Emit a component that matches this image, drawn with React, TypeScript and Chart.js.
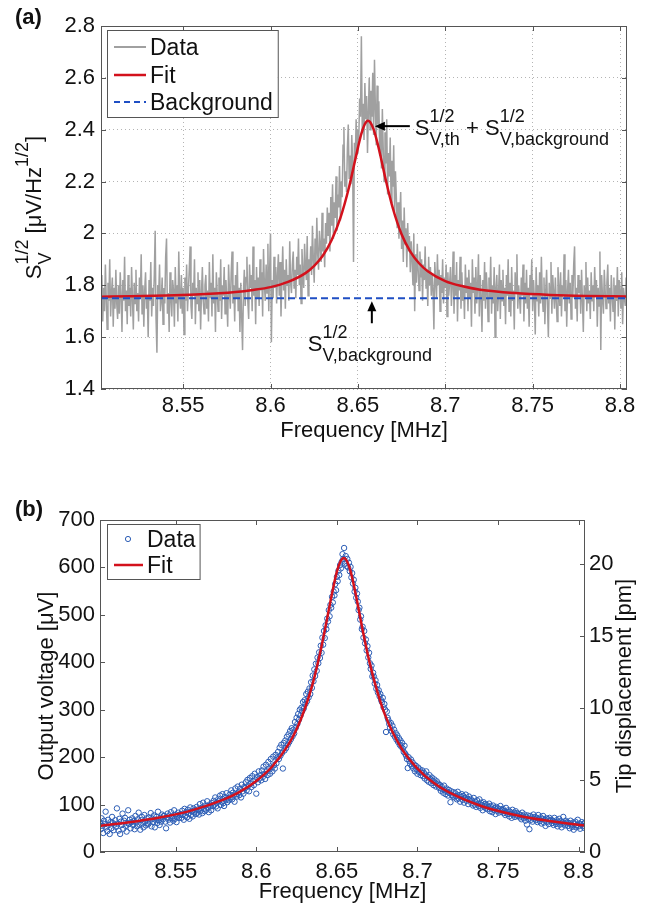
import React, { useEffect, useRef } from 'react';
import { Chart, registerables } from 'chart.js';

Chart.register(...registerables);

const FONT = '"Liberation Sans", Arial, Helvetica, sans-serif';

// ---------- shared frequency axis (MHz) ----------
const FREQ_MIN = 8.503;
const FREQ_MAX = 8.804;
const SAMPLE_START = 8.503; // sweep start of the measured spectra
const SAMPLE_STEP = 0.0005; // sweep resolution of the measured spectra
const X_TICKS = [8.55, 8.6, 8.65, 8.7, 8.75, 8.8];
const X_TICK_LABELS = ['8.55', '8.6', '8.65', '8.7', '8.75', '8.8'];

// ---------- panel (a) ----------
const A_Y_MIN = 1.4;
const A_Y_MAX = 2.8;
const A_Y_TICKS = [1.4, 1.6, 1.8, 2, 2.2, 2.4, 2.6, 2.8];
const A_Y_TICK_LABELS = ['1.4', '1.6', '1.8', '2', '2.2', '2.4', '2.6', '2.8'];
const A_BACKGROUND = 1.75;

const A_SPECTRUM = [
  1.72,1.84,1.66,1.79,1.70,1.88,1.75,1.63,1.81,1.74,1.90,1.68,1.77,1.83,1.64,1.79,1.71,1.86,1.73,1.67,
  1.80,1.69,1.85,1.76,1.62,1.82,1.74,1.91,1.70,1.78,1.65,1.84,1.72,1.79,1.68,1.87,1.75,1.63,1.81,1.73,
  1.86,1.70,1.77,1.66,1.83,1.75,1.92,1.69,1.80,1.64,1.78,1.85,1.71,1.76,1.60,1.82,1.74,1.89,1.68,1.79,
  1.72,1.84,2.01,1.67,1.54,1.80,1.76,1.88,1.70,1.74,1.83,1.65,1.79,1.73,1.91,1.98,1.69,1.77,1.62,1.85,
  1.75,1.68,1.82,1.78,1.64,1.87,1.73,1.80,1.66,1.93,1.76,1.71,1.84,1.69,1.79,1.61,1.83,1.74,1.88,1.70,
  1.78,1.86,1.95,1.72,1.67,1.81,1.76,1.90,1.65,1.79,1.73,1.85,1.70,1.82,1.63,1.77,1.87,1.74,1.69,1.80,
  1.84,1.71,1.78,1.66,1.89,1.75,1.81,1.68,1.92,1.73,1.79,1.62,1.85,1.77,1.70,1.83,1.74,1.90,1.67,1.80,
  1.76,1.87,1.69,1.82,1.74,1.64,1.88,1.78,1.71,1.85,1.93,1.73,1.80,1.66,1.84,1.75,1.89,1.70,1.79,1.62,
  1.81,1.68,1.55,1.77,1.86,1.72,1.83,1.91,1.74,1.67,1.88,1.79,1.84,1.70,1.95,1.76,1.82,1.65,1.87,1.75,
  1.83,1.72,1.90,1.78,1.85,1.68,1.94,1.80,1.74,1.88,1.77,1.96,1.70,1.86,2.00,1.58,1.82,1.75,1.91,1.79,
  1.87,1.73,1.84,1.92,1.76,1.89,1.68,1.82,1.95,1.78,1.86,1.71,1.90,1.80,1.84,1.74,1.97,1.81,1.77,1.88,
  1.93,1.79,1.86,1.75,1.91,1.84,1.98,1.80,1.88,1.73,1.94,1.85,1.79,1.96,1.87,1.82,1.99,1.76,1.90,1.86,
  1.95,1.84,2.03,1.90,1.81,1.98,1.88,2.06,1.92,1.86,2.01,1.95,1.89,2.08,1.93,1.98,1.87,2.04,1.96,2.10,
  1.99,2.08,1.93,2.14,2.03,2.19,1.98,2.12,2.06,2.22,2.01,2.15,2.10,2.26,2.05,2.20,2.14,2.34,2.41,2.18,
  2.24,2.16,2.33,2.42,2.21,2.30,2.19,2.38,2.27,1.89,2.35,2.28,2.44,2.31,2.40,2.36,2.52,2.45,2.76,2.39,
  2.50,2.36,2.58,2.44,2.53,2.31,2.47,2.60,2.40,2.55,2.45,2.62,2.38,2.67,2.49,2.34,2.57,2.42,2.51,2.30,
  2.41,2.25,2.48,2.33,2.20,2.39,2.27,2.44,2.15,2.31,2.22,2.37,2.12,2.28,2.18,2.34,2.08,2.24,2.14,2.02,
  2.12,1.98,2.07,2.16,1.94,2.05,1.89,2.10,1.96,2.02,1.87,2.04,1.93,1.99,1.85,1.97,1.90,1.80,2.00,1.70,
  1.92,1.81,1.96,1.86,1.78,1.93,1.83,1.90,1.74,1.88,1.82,1.95,1.79,1.86,1.72,1.91,1.80,1.87,1.76,1.84,
  1.78,1.63,1.89,1.82,1.75,1.92,1.80,1.86,1.70,1.84,1.77,1.90,1.73,1.83,1.79,1.88,1.68,1.85,1.76,1.81,
  1.87,1.72,1.80,1.93,1.69,1.84,1.76,1.89,1.66,1.82,1.78,1.91,1.71,1.85,1.74,1.80,1.67,1.88,1.77,1.83,
  1.70,1.86,1.75,1.81,1.64,1.90,1.77,1.83,1.69,1.87,1.73,1.79,1.92,1.68,1.84,1.76,1.62,1.82,1.74,1.89,
  1.71,1.85,1.78,1.66,1.83,1.75,1.91,1.69,1.80,1.73,1.87,1.60,1.79,1.84,1.70,1.77,1.88,1.67,1.82,1.74,
  1.86,1.72,1.79,1.65,1.84,1.76,1.90,1.70,1.81,1.68,1.87,1.74,1.78,1.63,1.85,1.77,1.92,1.71,1.80,1.75,
  1.69,1.83,1.76,1.88,1.66,1.81,1.73,1.86,1.71,1.79,1.64,1.84,1.77,1.90,1.70,1.82,1.75,1.61,1.87,1.74,
  1.80,1.68,1.85,1.73,1.91,1.76,1.70,1.83,1.65,1.78,1.86,1.72,1.60,1.81,1.75,1.89,1.69,1.84,1.77,1.71,
  1.83,1.74,1.66,1.87,1.79,1.72,1.85,1.68,1.80,1.76,1.92,1.70,1.82,1.64,1.78,1.86,1.73,1.81,1.67,1.84,
  1.75,1.88,1.95,1.71,1.79,1.66,1.84,1.77,1.82,1.69,1.86,1.74,1.62,1.80,1.76,1.89,1.70,1.83,1.73,1.78,
  1.67,1.85,1.74,1.80,1.70,1.87,1.76,1.82,1.64,1.79,1.72,1.93,1.55,1.84,1.75,1.69,1.86,1.78,1.71,1.81,
  1.88,1.73,1.79,1.66,1.84,1.76,1.70,1.83,1.63,1.80,1.74,1.87,1.68,1.82,1.77,1.71,1.85,1.65,1.79,1.75,
  1.72,1.83,1.69,
];

const A_FIT_F = [
  8.503, 8.52, 8.54, 8.56, 8.58, 8.59, 8.6, 8.61, 8.62, 8.625, 8.63, 8.635, 8.64, 8.645, 8.648,
  8.65, 8.652, 8.654, 8.6557, 8.657, 8.659, 8.661, 8.663, 8.666, 8.67, 8.675, 8.68, 8.685, 8.69,
  8.7, 8.71, 8.72, 8.74, 8.76, 8.78, 8.804,
];
const A_FIT_V = [
  1.756, 1.758, 1.761, 1.765, 1.774, 1.782, 1.793, 1.813, 1.847, 1.875, 1.915, 1.975, 2.06, 2.18, 2.27,
  2.33, 2.385, 2.422, 2.435, 2.43, 2.401, 2.354, 2.297, 2.205, 2.097, 1.997, 1.93, 1.885, 1.854,
  1.816, 1.796, 1.783, 1.77, 1.763, 1.759, 1.757,
];

// ---------- panel (b) ----------
const B_Y_MIN = 0;
const B_Y_MAX = 700;
const B_Y_TICKS = [0, 100, 200, 300, 400, 500, 600, 700];
const B_Y_TICK_LABELS = ['0', '100', '200', '300', '400', '500', '600', '700'];
const B_Y2_TICKS = [0, 5, 10, 15, 20];
const B_Y2_TICK_LABELS = ['0', '5', '10', '15', '20'];
const UV_PER_PM = 30.4; // output voltage per tip displacement

const B_AMPLITUDE = [
  62,48,71,55,40,66,59,85,52,44,68,57,38,63,50,74,61,46,58,67,
  53,92,60,45,70,38,64,57,81,49,66,72,55,43,61,88,59,68,50,63,
  71,57,65,48,76,62,54,69,83,58,47,67,74,60,52,78,64,56,71,61,
  59,73,66,82,54,70,63,77,52,68,74,61,85,67,57,72,64,79,69,76,
  76,64,50,73,81,68,77,62,84,71,75,66,88,70,79,63,74,83,72,78,
  80,72,87,79,68,91,76,84,73,89,81,70,94,78,86,75,92,83,88,80,
  95,83,90,79,101,87,93,82,104,91,86,98,89,107,93,84,100,96,88,103,
  97,108,100,115,96,104,92,112,107,119,99,106,122,103,97,116,110,124,105,113,
  109,121,115,130,111,125,119,106,134,122,117,138,126,120,133,115,142,128,123,137,
  135,147,130,152,140,128,156,144,137,160,149,141,165,152,123,158,147,170,155,162,
  151,172,158,180,165,154,184,170,162,190,176,165,196,178,170,201,183,176,205,187,
  199,211,196,220,203,226,209,176,230,214,235,219,243,226,248,232,255,238,261,244,
  258,250,274,262,283,270,291,279,300,288,304,297,316,303,320,312,333,318,338,326,
  345,333,358,346,372,360,385,371,397,382,410,398,421,409,435,420,452,437,466,451,
  478,470,492,486,510,497,521,515,538,526,549,541,565,552,580,571,593,584,605,598,
  612,628,618,641,608,624,603,618,600,610,592,601,579,588,566,574,549,557,536,545,
  528,510,515,490,497,470,475,452,466,440,448,425,434,410,420,398,386,393,370,378,
  370,355,362,344,352,336,341,328,333,320,316,325,305,312,300,253,296,283,278,270,
  262,272,255,266,248,258,243,251,237,246,232,240,226,235,222,230,218,211,224,207,
  203,196,177,200,192,186,195,181,189,176,184,170,182,174,165,178,169,174,162,168,
  172,160,167,155,163,170,151,158,148,162,154,145,157,150,141,153,146,138,149,142,
  144,135,141,129,138,132,125,140,130,122,134,127,119,131,124,105,128,120,117,126,
  115,124,118,111,127,113,120,106,116,122,110,118,104,114,121,108,112,101,117,109,
  112,103,108,98,114,100,106,95,109,102,97,111,93,104,99,88,105,96,101,92,
  99,90,95,102,86,97,91,84,98,89,93,80,95,87,92,83,90,97,85,89,
  91,82,86,78,93,84,80,88,75,85,81,72,89,79,83,74,86,77,82,76,
  80,73,78,69,83,75,71,79,66,74,58,77,70,48,76,68,73,64,79,70,
  74,67,72,63,78,69,65,73,60,70,76,62,68,55,71,64,69,59,72,66,
  68,61,66,57,72,63,59,67,54,64,70,58,65,52,62,74,60,56,66,61,
  63,55,61,50,66,58,53,62,47,59,64,52,57,68,54,60,49,58,63,55,
  59,51,62,
];

const B_FIT_F = [
  8.503, 8.52, 8.54, 8.56, 8.58, 8.59, 8.6, 8.61, 8.62, 8.625, 8.63, 8.635, 8.64, 8.644, 8.647,
  8.65, 8.652, 8.6543, 8.656, 8.658, 8.66, 8.663, 8.666, 8.67, 8.675, 8.68, 8.69, 8.7, 8.71, 8.72,
  8.74, 8.76, 8.78, 8.804,
];
const B_FIT_V = [
  55, 62, 72.7, 87.8, 110.9, 127.3, 149.6, 180.7, 227, 259, 301, 355, 426, 493, 545,
  591, 611, 620, 615, 598, 571, 521, 468, 404, 339, 288, 219, 176, 146, 125,
  96.5, 78.6, 66.2, 55.7,
];

// ---------- styling ----------
const TEXT = '#111111';
const FRAME = '#555555';
const GRID = '#b4b4b4';
const GRAY = '#a0a0a0';
const RED = '#d3111c';
const BLUE_LINE = '#1f4fc4';
const BLUE_PT = '#2c5db5';
const MAIN = 22;
const LEGEND = 23;
const SCRIPT = 18;
const SUP_DY = -13;
const SUB_DY = 10;

type Piece = { m?: string; sup?: string; sub?: string };

const Y_TITLE_A: Piece[] = [{ m: 'S' }, { sup: '1/2', sub: 'V' }, { m: ' [μV/Hz' }, { sup: '1/2' }, { m: ']' }];
const PEAK_LABEL: Piece[] = [{ m: 'S' }, { sup: '1/2', sub: 'V,th' }, { m: ' + S' }, { sup: '1/2', sub: 'V,background' }];
const BG_LABEL: Piece[] = [{ m: 'S' }, { sup: '1/2', sub: 'V,background' }];

const font = (size: number, bold = false) => `${bold ? 'bold ' : ''}${size}px ${FONT}`;

function pieceWidth(ctx: CanvasRenderingContext2D, p: Piece) {
  if (p.m !== undefined) {
    ctx.font = font(MAIN);
    return ctx.measureText(p.m).width;
  }
  ctx.font = font(SCRIPT);
  return Math.max(p.sup ? ctx.measureText(p.sup).width : 0, p.sub ? ctx.measureText(p.sub).width : 0);
}
function richWidth(ctx: CanvasRenderingContext2D, pieces: Piece[]) {
  return pieces.reduce((s, p) => s + pieceWidth(ctx, p), 0);
}
function drawRich(ctx: CanvasRenderingContext2D, pieces: Piece[], x: number, y: number) {
  ctx.textAlign = 'left';
  ctx.textBaseline = 'alphabetic';
  ctx.fillStyle = TEXT;
  for (const p of pieces) {
    const w = pieceWidth(ctx, p);
    if (p.m !== undefined) {
      ctx.font = font(MAIN);
      ctx.fillText(p.m, x, y);
    } else {
      ctx.font = font(SCRIPT);
      if (p.sup) ctx.fillText(p.sup, x, y + SUP_DY);
      if (p.sub) ctx.fillText(p.sub, x, y + SUB_DY);
    }
    x += w;
  }
}
function rotatedText(ctx: CanvasRenderingContext2D, x: number, cy: number, draw: () => void) {
  ctx.save();
  ctx.translate(x, cy);
  ctx.rotate(-Math.PI / 2);
  draw();
  ctx.restore();
}
function arrow(ctx: CanvasRenderingContext2D, x1: number, y1: number, x2: number, y2: number) {
  const a = Math.atan2(y2 - y1, x2 - x1);
  const L = 10, W = 4.5;
  const c = Math.cos(a), s = Math.sin(a);
  ctx.strokeStyle = '#000';
  ctx.fillStyle = '#000';
  ctx.lineWidth = 2;
  ctx.beginPath();
  ctx.moveTo(x1, y1);
  ctx.lineTo(x2 - c * L * 0.7, y2 - s * L * 0.7);
  ctx.stroke();
  ctx.beginPath();
  ctx.moveTo(x2, y2);
  ctx.lineTo(x2 - c * L - s * W, y2 - s * L + c * W);
  ctx.lineTo(x2 - c * L + s * W, y2 - s * L - c * W);
  ctx.closePath();
  ctx.fill();
}
function drawFrame(ctx: CanvasRenderingContext2D, ca: any) {
  ctx.strokeStyle = FRAME;
  ctx.lineWidth = 1;
  ctx.setLineDash([]);
  ctx.strokeRect(ca.left + 0.5, ca.top + 0.5, ca.right - ca.left - 1, ca.bottom - ca.top - 1);
}
function hTicks(ctx: CanvasRenderingContext2D, scale: any, values: number[], ca: any) {
  ctx.strokeStyle = FRAME;
  ctx.lineWidth = 1;
  ctx.beginPath();
  values.forEach((v) => {
    const px = Math.round(scale.getPixelForValue(v)) + 0.5;
    ctx.moveTo(px, ca.bottom);
    ctx.lineTo(px, ca.bottom - 5);
    ctx.moveTo(px, ca.top);
    ctx.lineTo(px, ca.top + 5);
  });
  ctx.stroke();
}
function vTicks(ctx: CanvasRenderingContext2D, scale: any, values: number[], ca: any, left: boolean, right: boolean) {
  ctx.strokeStyle = FRAME;
  ctx.lineWidth = 1;
  ctx.beginPath();
  values.forEach((v) => {
    const py = Math.round(scale.getPixelForValue(v)) + 0.5;
    if (left) {
      ctx.moveTo(ca.left, py);
      ctx.lineTo(ca.left + 5, py);
    }
    if (right) {
      ctx.moveTo(ca.right, py);
      ctx.lineTo(ca.right - 5, py);
    }
  });
  ctx.stroke();
}

function xScale(height: number, pad: number, grid: boolean) {
  return {
    type: 'linear',
    min: FREQ_MIN,
    max: FREQ_MAX,
    afterBuildTicks: (s: any) => {
      s.ticks = X_TICKS.map((value) => ({ value }));
    },
    afterFit: (s: any) => {
      s.height = height;
    },
    ticks: {
      callback: (_v: any, i: number) => X_TICK_LABELS[i],
      font: { family: FONT, size: MAIN },
      color: TEXT,
      padding: pad,
      maxRotation: 0,
      minRotation: 0,
      autoSkip: false,
    },
    grid: { display: grid, color: GRID, lineWidth: 1, drawTicks: false },
    border: { display: false, dash: [1, 3] },
  };
}
function yScale(min: number, max: number, ticks: number[], labels: string[], width: number, pad: number, grid: boolean, position: string) {
  return {
    type: 'linear',
    position,
    min,
    max,
    afterBuildTicks: (s: any) => {
      s.ticks = ticks.map((value) => ({ value }));
    },
    afterFit: (s: any) => {
      s.width = width;
    },
    ticks: {
      callback: (_v: any, i: number) => labels[i],
      font: { family: FONT, size: MAIN },
      color: TEXT,
      padding: pad,
      autoSkip: false,
    },
    grid: { display: grid, color: GRID, lineWidth: 1, drawTicks: false, drawOnChartArea: grid },
    border: { display: false, dash: [1, 3] },
  };
}

const panelAPlugin = {
  id: 'panelA',
  afterDraw(chart: any) {
    const { ctx, chartArea: ca, scales } = chart;
    const x = scales.x, y = scales.y;
    ctx.save();
    drawFrame(ctx, ca);
    hTicks(ctx, x, X_TICKS, ca);
    vTicks(ctx, y, A_Y_TICKS, ca, true, true);

    // legend
    const items = [
      { label: 'Data', color: GRAY, w: 2, dash: [] as number[] },
      { label: 'Fit', color: RED, w: 2.5, dash: [] as number[] },
      { label: 'Background', color: BLUE_LINE, w: 2, dash: [6, 4] },
    ];
    const lx = ca.left + 6, ly = ca.top + 4;
    const textX = lx + 43;
    ctx.font = font(LEGEND);
    const maxW = Math.max(...items.map((it) => ctx.measureText(it.label).width));
    const bw = textX + maxW + 5 - lx, bh = 87;
    ctx.fillStyle = '#fff';
    ctx.fillRect(lx, ly, bw, bh);
    ctx.strokeStyle = FRAME;
    ctx.lineWidth = 1;
    ctx.strokeRect(lx + 0.5, ly + 0.5, bw, bh);
    const rows = [17, 45, 72];
    items.forEach((it, i) => {
      const ry = ly + rows[i];
      ctx.strokeStyle = it.color;
      ctx.lineWidth = it.w;
      ctx.setLineDash(it.dash);
      ctx.beginPath();
      ctx.moveTo(lx + 7, ry);
      ctx.lineTo(lx + 39, ry);
      ctx.stroke();
      ctx.setLineDash([]);
      ctx.fillStyle = TEXT;
      ctx.font = font(LEGEND);
      ctx.textAlign = 'left';
      ctx.textBaseline = 'alphabetic';
      ctx.fillText(it.label, textX, ry + 8);
    });

    // annotations anchored on the fitted peak and on the background level
    let pi = 0;
    A_FIT_V.forEach((v, i) => {
      if (v > A_FIT_V[pi]) pi = i;
    });
    const px = x.getPixelForValue(A_FIT_F[pi]);
    const py = y.getPixelForValue(A_FIT_V[pi]);
    arrow(ctx, px + 42, py + 5.5, px + 7, py + 5.5);
    drawRich(ctx, PEAK_LABEL, px + 47, py + 14.5);
    const by = y.getPixelForValue(A_BACKGROUND);
    arrow(ctx, px + 4, by + 25, px + 4, by + 3);
    drawRich(ctx, BG_LABEL, px + 4 - 64, by + 53);

    // axis titles
    ctx.fillStyle = TEXT;
    ctx.font = font(MAIN);
    ctx.textAlign = 'center';
    ctx.textBaseline = 'alphabetic';
    ctx.fillText('Frequency [MHz]', (ca.left + ca.right) / 2, ca.bottom + 48);
    rotatedText(ctx, 41, (ca.top + ca.bottom) / 2, () => {
      const w = richWidth(ctx, Y_TITLE_A);
      drawRich(ctx, Y_TITLE_A, -w / 2, 0);
    });

    ctx.fillStyle = TEXT;
    ctx.font = font(22, true);
    ctx.textAlign = 'left';
    ctx.fillText('(a)', 15, 24);
    ctx.restore();
  },
};

const panelBPlugin = {
  id: 'panelB',
  afterDraw(chart: any) {
    const { ctx, chartArea: ca, scales } = chart;
    const x = scales.x, y = scales.y, y2 = scales.y2;
    ctx.save();
    drawFrame(ctx, ca);
    hTicks(ctx, x, X_TICKS, ca);
    vTicks(ctx, y, B_Y_TICKS, ca, true, false);
    vTicks(ctx, y2, B_Y2_TICKS, ca, false, true);

    // legend
    const lx = ca.left + 7, ly = ca.top + 4;
    const textX = lx + 40;
    ctx.font = font(LEGEND);
    const maxW = Math.max(ctx.measureText('Data').width, ctx.measureText('Fit').width);
    const bw = textX + maxW + 4 - lx, bh = 55;
    ctx.fillStyle = '#fff';
    ctx.fillRect(lx, ly, bw, bh);
    ctx.strokeStyle = FRAME;
    ctx.lineWidth = 1;
    ctx.strokeRect(lx + 0.5, ly + 0.5, bw, bh);
    const r1 = ly + 15, r2 = ly + 41;
    ctx.strokeStyle = BLUE_PT;
    ctx.lineWidth = 1;
    ctx.beginPath();
    ctx.arc(lx + 21, r1, 2.6, 0, Math.PI * 2);
    ctx.stroke();
    ctx.strokeStyle = RED;
    ctx.lineWidth = 2.5;
    ctx.beginPath();
    ctx.moveTo(lx + 7, r2);
    ctx.lineTo(lx + 36, r2);
    ctx.stroke();
    ctx.fillStyle = TEXT;
    ctx.font = font(LEGEND);
    ctx.textAlign = 'left';
    ctx.textBaseline = 'alphabetic';
    ctx.fillText('Data', textX, r1 + 8);
    ctx.fillText('Fit', textX, r2 + 8);

    // axis titles
    ctx.font = font(MAIN);
    ctx.textAlign = 'center';
    ctx.fillText('Frequency [MHz]', (ca.left + ca.right) / 2, ca.bottom + 46);
    const cy = (ca.top + ca.bottom) / 2;
    rotatedText(ctx, 53, cy, () => {
      ctx.fillStyle = TEXT;
      ctx.font = font(MAIN);
      ctx.textAlign = 'center';
      ctx.fillText('Output voltage [μV]', 0, 0);
    });
    rotatedText(ctx, 631, cy, () => {
      ctx.fillStyle = TEXT;
      ctx.font = font(MAIN);
      ctx.textAlign = 'center';
      ctx.fillText('Tip displacement [pm]', 0, 0);
    });

    ctx.fillStyle = TEXT;
    ctx.font = font(22, true);
    ctx.textAlign = 'left';
    ctx.fillText('(b)', 15, 66);
    ctx.restore();
  },
};

function configA(): any {
  const spectrum = A_SPECTRUM.map((v, i) => ({ x: SAMPLE_START + i * SAMPLE_STEP, y: v }));
  const fit = A_FIT_F.map((f, i) => ({ x: f, y: A_FIT_V[i] }));
  const bg = [
    { x: FREQ_MIN, y: A_BACKGROUND },
    { x: FREQ_MAX, y: A_BACKGROUND },
  ];
  return {
    type: 'line',
    data: {
      datasets: [
        { label: 'Background', data: bg, borderColor: BLUE_LINE, borderWidth: 2, borderDash: [7, 4], pointRadius: 0, order: 0 },
        { label: 'Fit', data: fit, borderColor: RED, borderWidth: 2.5, pointRadius: 0, cubicInterpolationMode: 'monotone', order: 1 },
        { label: 'Data', data: spectrum, borderColor: GRAY, borderWidth: 1.5, pointRadius: 0, order: 2 },
      ],
    },
    options: {
      responsive: false,
      animation: false,
      devicePixelRatio: 1,
      events: [],
      layout: { padding: { top: 26, right: 38, left: 0, bottom: 0 } },
      plugins: { legend: { display: false }, tooltip: { enabled: false } },
      scales: {
        x: xScale(61, 4, true),
        y: yScale(A_Y_MIN, A_Y_MAX, A_Y_TICKS, A_Y_TICK_LABELS, 101, 6, true, 'left'),
      },
    },
    plugins: [panelAPlugin],
  };
}

function configB(): any {
  const pts = B_AMPLITUDE.map((v, i) => ({ x: SAMPLE_START + i * SAMPLE_STEP, y: v }));
  const fit = B_FIT_F.map((f, i) => ({ x: f, y: B_FIT_V[i] }));
  return {
    type: 'line',
    data: {
      datasets: [
        { label: 'Fit', data: fit, borderColor: RED, borderWidth: 2.5, pointRadius: 0, cubicInterpolationMode: 'monotone', order: 0, yAxisID: 'y' },
        {
          label: 'Data',
          data: pts,
          showLine: false,
          pointRadius: 2.7,
          pointBorderWidth: 1,
          pointBorderColor: BLUE_PT,
          pointBackgroundColor: 'rgba(0,0,0,0)',
          order: 1,
          yAxisID: 'y',
        },
      ],
    },
    options: {
      responsive: false,
      animation: false,
      devicePixelRatio: 1,
      events: [],
      layout: { padding: { top: 70, right: 0, left: 0, bottom: 0 } },
      plugins: { legend: { display: false }, tooltip: { enabled: false } },
      scales: {
        x: xScale(56, 7, false),
        y: yScale(B_Y_MIN, B_Y_MAX, B_Y_TICKS, B_Y_TICK_LABELS, 100, 5, false, 'left'),
        y2: yScale(B_Y_MIN / UV_PER_PM, B_Y_MAX / UV_PER_PM, B_Y2_TICKS, B_Y2_TICK_LABELS, 80, 4, false, 'right'),
      },
    },
    plugins: [panelBPlugin],
  };
}

export default function App() {
  const refA = useRef<HTMLCanvasElement>(null);
  const refB = useRef<HTMLCanvasElement>(null);
  useEffect(() => {
    const a = new Chart(refA.current as HTMLCanvasElement, configA());
    const b = new Chart(refB.current as HTMLCanvasElement, configB());
    return () => {
      a.destroy();
      b.destroy();
    };
  }, []);
  return (
    <div style={{ position: 'absolute', left: 0, top: 0, width: 665, height: 908, background: '#fff' }}>
      <canvas ref={refA} width={665} height={450} style={{ position: 'absolute', left: 0, top: 0, width: 665, height: 450 }} />
      <canvas ref={refB} width={665} height={458} style={{ position: 'absolute', left: 0, top: 450, width: 665, height: 458 }} />
    </div>
  );
}
